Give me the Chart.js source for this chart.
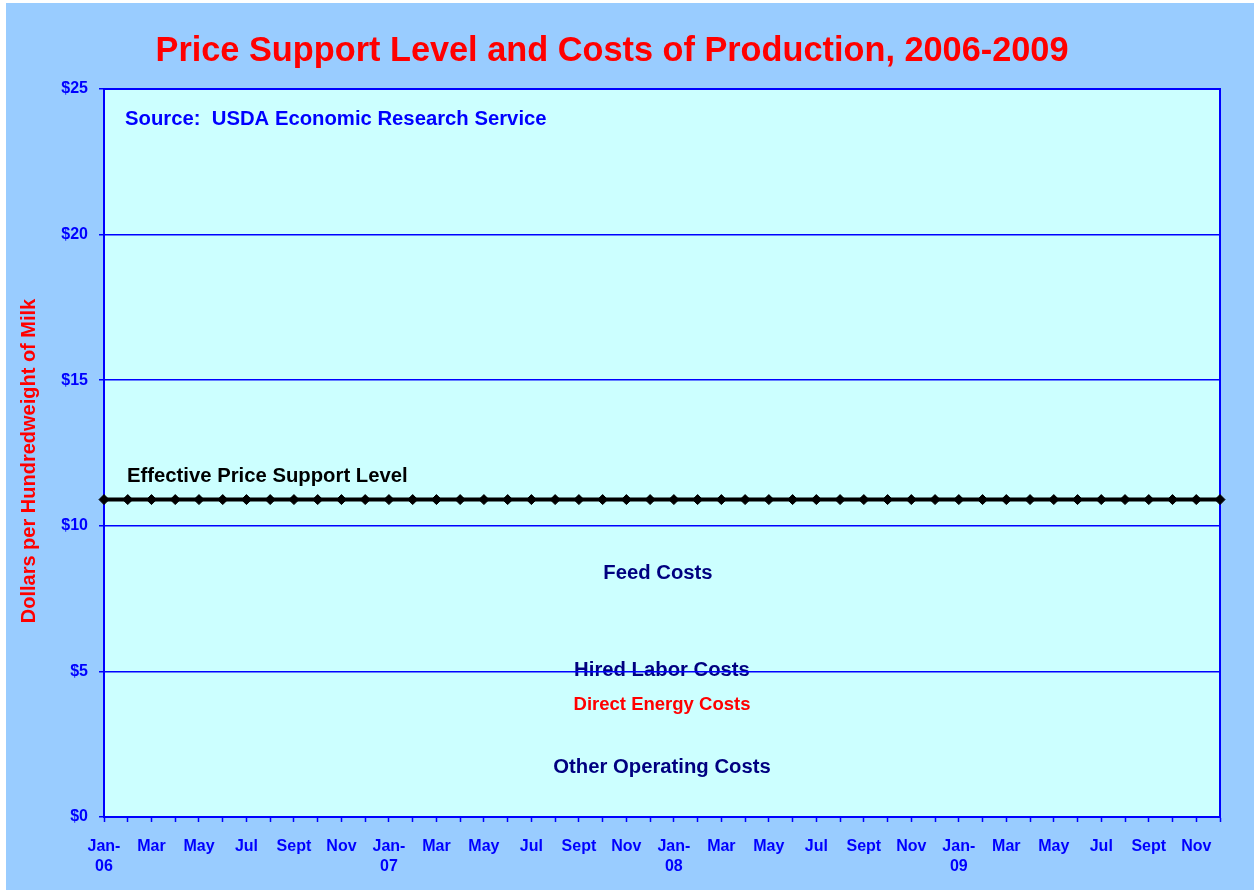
<!DOCTYPE html>
<html lang="en">
<head>
  <meta charset="UTF-8">
  <title>Price Support Level and Costs of Production, 2006-2009</title>
  <script src="https://cdn.jsdelivr.net/npm/chart.js@4.4.7/dist/chart.umd.min.js"></script>
  <style>
    * { margin: 0; padding: 0; box-sizing: border-box; }
    body { background: #fff; width: 1254px; height: 890px; overflow: hidden; }
    canvas { display: block; }
  </style>
</head>
<body>
  <canvas id="milkChart" width="1254" height="890"></canvas>

  <script>
    const months = [
      'Jan-06','Feb-06','Mar-06','Apr-06','May-06','Jun-06','Jul-06','Aug-06','Sep-06','Oct-06','Nov-06','Dec-06',
      'Jan-07','Feb-07','Mar-07','Apr-07','May-07','Jun-07','Jul-07','Aug-07','Sep-07','Oct-07','Nov-07','Dec-07',
      'Jan-08','Feb-08','Mar-08','Apr-08','May-08','Jun-08','Jul-08','Aug-08','Sep-08','Oct-08','Nov-08','Dec-08',
      'Jan-09','Feb-09','Mar-09','Apr-09','May-09','Jun-09','Jul-09','Aug-09','Sep-09','Oct-09','Nov-09','Dec-09'
    ];

    const tickLabels = [
      ['Jan-', '06'], '', 'Mar', '', 'May', '', 'Jul', '', 'Sept', '', 'Nov', '',
      ['Jan-', '07'], '', 'Mar', '', 'May', '', 'Jul', '', 'Sept', '', 'Nov', '',
      ['Jan-', '08'], '', 'Mar', '', 'May', '', 'Jul', '', 'Sept', '', 'Nov', '',
      ['Jan-', '09'], '', 'Mar', '', 'May', '', 'Jul', '', 'Sept', '', 'Nov', ''
    ];

    // effective price support level, $/cwt
    const supportLevel = [
      10.9, 10.9, 10.9, 10.9, 10.9, 10.9, 10.9, 10.9, 10.9, 10.9, 10.9, 10.9,
      10.9, 10.9, 10.9, 10.9, 10.9, 10.9, 10.9, 10.9, 10.9, 10.9, 10.9, 10.9,
      10.9, 10.9, 10.9, 10.9, 10.9, 10.9, 10.9, 10.9, 10.9, 10.9, 10.9, 10.9,
      10.9, 10.9, 10.9, 10.9, 10.9, 10.9, 10.9, 10.9, 10.9, 10.9, 10.9, 10.9
    ];

    const yTicks = [0, 5, 10, 15, 20, 25];

    const costLabels = ['Feed Costs', 'Hired Labor Costs', 'Direct Energy Costs', 'Other Operating Costs'];

    const FONT = "'Liberation Sans', Arial, sans-serif";
    const BLUE = '#0000FF';

    // backgrounds, texts inside the plot (under the grid), titles
    const decorPlugin = {
      id: 'decor',
      beforeDraw(chart) {
        const { ctx, chartArea: a, scales: { x, y } } = chart;
        ctx.save();
        ctx.fillStyle = '#99CCFF';
        ctx.fillRect(6, 3, chart.width - 6, chart.height - 3);
        ctx.fillStyle = '#CCFFFF';
        ctx.fillRect(a.left, a.top, a.right - a.left, a.bottom - a.top);

        ctx.font = 'bold 20.3px ' + FONT;
        ctx.textBaseline = 'middle';
        ctx.textAlign = 'left';
        ctx.fillStyle = BLUE;
        ctx.fillText('Source:  USDA Economic Research Service', a.left + 21, y.getPixelForValue(23.96));
        ctx.fillStyle = '#000000';
        ctx.fillText('Effective Price Support Level', a.left + 23, y.getPixelForValue(11.7));

        ctx.textAlign = 'center';
        const notes = [
          { text: costLabels[0], color: '#000080', size: 20.3, at: 23.33, v: 8.38 },
          { text: costLabels[1], color: '#000080', size: 20.3, at: 23.5, v: 5.04 },
          { text: costLabels[2], color: '#FF0000', size: 18.5, at: 23.5, v: 3.85 },
          { text: costLabels[3], color: '#000080', size: 20.3, at: 23.5, v: 1.71 }
        ];
        notes.forEach(n => {
          ctx.font = 'bold ' + n.size + 'px ' + FONT;
          ctx.fillStyle = n.color;
          ctx.fillText(n.text, x.getPixelForValue(n.at), y.getPixelForValue(n.v));
        });
        ctx.restore();
      },
      beforeDatasetsDraw(chart) {
        const { ctx, chartArea: a } = chart;
        ctx.save();
        ctx.strokeStyle = BLUE;
        ctx.lineWidth = 2;
        ctx.beginPath();
        ctx.moveTo(a.left, a.top);
        ctx.lineTo(a.right, a.top);
        ctx.lineTo(a.right, a.bottom);
        ctx.stroke();
        ctx.restore();
      },
      afterDraw(chart) {
        const { ctx } = chart;
        ctx.save();
        ctx.fillStyle = '#FF0000';
        ctx.textAlign = 'center';
        ctx.textBaseline = 'alphabetic';
        ctx.font = 'bold 34.3px ' + FONT;
        ctx.fillText('Price Support Level and Costs of Production, 2006-2009', 612, 61);

        ctx.font = 'bold 20px ' + FONT;
        ctx.textBaseline = 'middle';
        ctx.translate(29, 461);
        ctx.rotate(-Math.PI / 2);
        ctx.fillText('Dollars per Hundredweight of Milk', 0, 0);
        ctx.restore();
      }
    };

    new Chart(document.getElementById('milkChart'), {
      type: 'line',
      data: {
        labels: months,
        datasets: [{
          label: 'Effective Price Support Level',
          data: supportLevel,
          borderColor: '#000000',
          backgroundColor: '#000000',
          borderWidth: 4,
          pointStyle: 'rectRot',
          pointRadius: 5,
          pointBackgroundColor: '#000000',
          pointBorderColor: '#000000',
          pointBorderWidth: 1,
          tension: 0,
          clip: false
        }]
      },
      options: {
        responsive: false,
        animation: false,
        layout: { padding: { top: 89, right: 34, bottom: 0, left: 0 } },
        plugins: {
          legend: { display: false },
          title: { display: false },
          tooltip: { enabled: false }
        },
        scales: {
          x: {
            offset: false,
            afterFit(scale) { scale.height = 73; },
            grid: {
              drawOnChartArea: false,
              drawTicks: true,
              tickLength: 5,
              tickColor: BLUE,
              tickWidth: 1.5,
              color: BLUE
            },
            border: { display: true, color: BLUE, width: 2 },
            ticks: {
              autoSkip: false,
              maxRotation: 0,
              minRotation: 0,
              padding: 15,
              color: BLUE,
              font: { family: FONT, size: 16, weight: 'bold', lineHeight: 1.25 },
              callback: (v, i) => tickLabels[i]
            }
          },
          y: {
            min: 0,
            max: 25,
            afterFit(scale) { scale.width = 104; },
            afterBuildTicks(scale) { scale.ticks = yTicks.map(v => ({ value: v })); },
            grid: {
              color: BLUE,
              lineWidth: 1.5,
              tickLength: 5,
              tickColor: BLUE
            },
            border: { display: true, color: BLUE, width: 2 },
            ticks: {
              padding: 11,
              color: BLUE,
              font: { family: FONT, size: 16, weight: 'bold' },
              callback: v => '$' + v
            }
          }
        }
      },
      plugins: [decorPlugin]
    });
  </script>
</body>
</html>
